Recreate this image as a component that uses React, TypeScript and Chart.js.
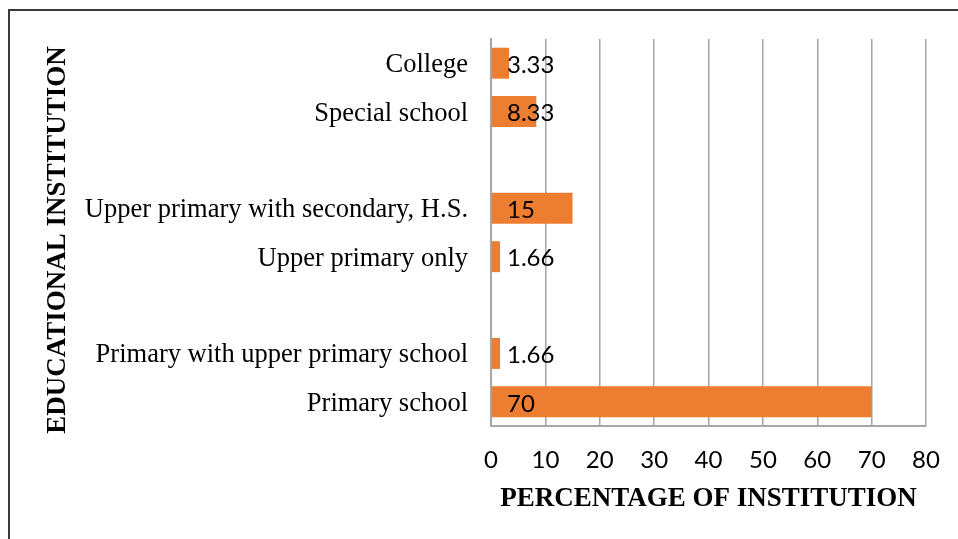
import React, { useEffect, useRef } from "react";
import { Chart, registerables } from "chart.js";

Chart.register(...registerables);

// Institution categories, top to bottom; empty strings leave gaps between groups
const categories = [
  "College",
  "Special school",
  "",
  "Upper primary with secondary, H.S.",
  "Upper primary only",
  "",
  "Primary with upper primary school",
  "Primary school",
];
const percentages: (number | null)[] = [3.33, 8.33, null, 15, 1.66, null, 1.66, 70];
const valueLabels = ["3.33", "8.33", "", "15", "1.66", "", "1.66", "70"];
const xTicks = [0, 10, 20, 30, 40, 50, 60, 70, 80];

const xTitle = "PERCENTAGE OF INSTITUTION";
const yTitle = "EDUCATIONAL INSTITUTION";

const BAR_COLOR = "#ED7D31";
const GRID_COLOR = "#a6a6a6";
const SERIF = "'Liberation Serif', 'Times New Roman', serif";
const SANS = "Lato, 'Open Sans', sans-serif";

const framePlugin = {
  id: "frame",
  beforeDraw(chart: any) {
    const { ctx, width, height } = chart;
    ctx.save();
    ctx.fillStyle = "#ffffff";
    ctx.fillRect(0, 0, width, height);
    ctx.strokeStyle = "#3a3a3a";
    ctx.lineWidth = 2;
    ctx.beginPath();
    ctx.moveTo(9, height + 5);
    ctx.lineTo(9, 10);
    ctx.lineTo(width + 5, 10);
    ctx.stroke();
    ctx.restore();
  },
};

const valueLabelPlugin = {
  id: "valueLabels",
  afterDatasetsDraw(chart: any) {
    const { ctx } = chart;
    const meta = chart.getDatasetMeta(0);
    const x0 = chart.scales.x.getPixelForValue(0);
    ctx.save();
    ctx.fillStyle = "#000000";
    ctx.font = `24px ${SANS}`;
    ctx.textAlign = "left";
    ctx.textBaseline = "middle";
    meta.data.forEach((bar: any, i: number) => {
      const text = valueLabels[i];
      if (!text) return;
      ctx.fillText(text, x0 + 16, bar.y + 2);
    });
    ctx.restore();
  },
};

const axisTitlePlugin = {
  id: "axisTitles",
  afterDraw(chart: any) {
    const { ctx, chartArea } = chart;
    ctx.save();
    ctx.fillStyle = "#000000";
    ctx.font = `bold 27px ${SERIF}`;
    ctx.textAlign = "center";
    ctx.textBaseline = "middle";
    ctx.fillText(xTitle, (chartArea.left + chartArea.right) / 2, 499);
    ctx.translate(58, 240);
    ctx.rotate(-Math.PI / 2);
    ctx.fillText(yTitle, 0, 0);
    ctx.restore();
  },
};

export default function App() {
  const canvasRef = useRef<HTMLCanvasElement>(null);

  useEffect(() => {
    if (!canvasRef.current) return;
    const chart = new Chart(canvasRef.current, {
      type: "bar",
      data: {
        labels: categories,
        datasets: [
          {
            data: percentages,
            backgroundColor: BAR_COLOR,
            borderWidth: 0,
            barPercentage: 0.64,
            categoryPercentage: 1,
          },
        ],
      },
      options: {
        indexAxis: "y",
        animation: false,
        responsive: false,
        maintainAspectRatio: false,
        layout: { padding: { left: 9, right: 32, top: 39, bottom: 0 } },
        plugins: {
          legend: { display: false },
          tooltip: { enabled: false },
          title: { display: false },
        },
        scales: {
          x: {
            min: 0,
            max: 80,
            afterBuildTicks: (scale: any) => {
              scale.ticks = xTicks.map((v) => ({ value: v }));
            },
            afterFit: (scale: any) => {
              scale.height = 113;
              scale.paddingLeft = 0;
              scale.paddingRight = 0;
            },
            ticks: {
              color: "#000000",
              font: { family: SANS, size: 24 },
              padding: 20,
              maxRotation: 0,
            },
            grid: {
              color: GRID_COLOR,
              lineWidth: 1.5,
              drawTicks: false,
            },
            border: { display: true, color: GRID_COLOR, width: 2 },
          },
          y: {
            afterFit: (scale: any) => {
              scale.width = 482;
              scale.paddingTop = 0;
              scale.paddingBottom = 0;
            },
            ticks: {
              color: "#000000",
              font: { family: SERIF, size: 26.5 },
              padding: 23,
              labelOffset: 2,
              autoSkip: false,
            },
            grid: { display: false, drawTicks: false },
            border: { display: true, color: GRID_COLOR, width: 2 },
          },
        },
      },
      plugins: [framePlugin, valueLabelPlugin, axisTitlePlugin],
    });
    return () => chart.destroy();
  }, []);

  return (
    <div style={{ position: "fixed", left: 0, top: 0, width: 958, height: 539, background: "#fff" }}>
      <canvas ref={canvasRef} width={958} height={539} style={{ display: "block" }} />
    </div>
  );
}
